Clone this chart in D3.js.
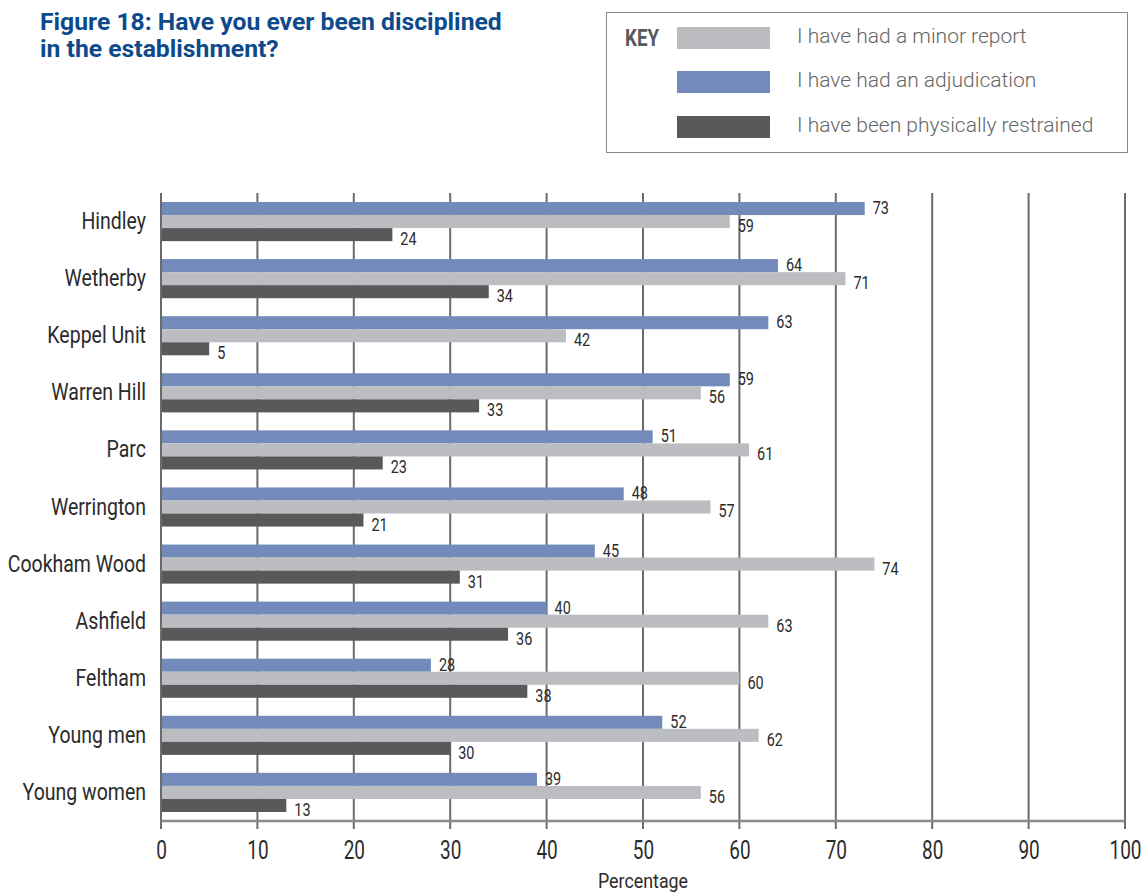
<!DOCTYPE html>
<html><head><meta charset="utf-8">
<script src="https://cdn.jsdelivr.net/npm/d3@7"></script>
<style>
body{margin:0;background:#fff;}
text{font-family:Roboto,"Liberation Sans",sans-serif;}
</style></head>
<body><svg id="c" width="1145" height="894"></svg>
<script>
const categories=["Hindley","Wetherby","Keppel Unit","Warren Hill","Parc","Werrington","Cookham Wood","Ashfield","Feltham","Young men","Young women"];
const adjudication=[73,64,63,59,51,48,45,40,28,52,39];
const minorReport=[59,71,42,56,61,57,74,63,60,62,56];
const restrained=[24,34,5,33,23,21,31,36,38,30,13];
const xTicks=[0,10,20,30,40,50,60,70,80,90,100];
const seriesNames=["I have had a minor report","I have had an adjudication","I have been physically restrained"];

const colors={adj:"#728bbb",minor:"#bcbdc1",rest:"#58595b"};
const svg=d3.select("#c");
const L=161,R=1125,T=193,B=821;
function cond(sel,sx){
  sel.each(function(){
    const t=d3.select(this);
    const x=+t.attr("x")||0,y=+t.attr("y")||0;
    t.attr("x",0).attr("y",0).attr("transform",`translate(${x},${y}) scale(${sx},1)`);
  });
}
const x=d3.scaleLinear().domain([0,100]).range([L,R]);
const y=d3.scaleBand().domain(categories).range([T,B]).paddingInner(0.315).paddingOuter(0.158);
const sub=d3.scaleBand().domain(["adj","minor","rest"]).range([0,y.bandwidth()]);
const labelShift={adj:-1,minor:4,rest:4};

// title
svg.append("text").attr("x",40).attr("y",30).attr("fill","#0d4a8c").attr("font-weight","bold").attr("font-size",24)
  .text("Figure 18: Have you ever been disciplined").call(cond,1.03);
svg.append("text").attr("x",40).attr("y",57).attr("fill","#0d4a8c").attr("font-weight","bold").attr("font-size",24)
  .text("in the establishment?").call(cond,1.03);

// legend
svg.append("rect").attr("x",606.5).attr("y",12.5).attr("width",521).attr("height",140).attr("fill","none").attr("stroke","#8a8a8a").attr("stroke-width",1);
svg.append("text").attr("x",625).attr("y",46).attr("font-size",24).attr("font-weight","bold").attr("fill","#58595b").text("KEY").call(cond,0.78);
const legendItems=[{n:seriesNames[0],c:colors.minor,y:27},{n:seriesNames[1],c:colors.adj,y:71},{n:seriesNames[2],c:colors.rest,y:116}];
legendItems.forEach(d=>{
  svg.append("text").attr("x",797).attr("y",d.y+16).attr("font-size",21).attr("font-weight",300).attr("fill","#666").text(d.n).call(cond,1.0);
  svg.append("rect").attr("x",677).attr("y",d.y).attr("width",93).attr("height",22).attr("fill",d.c);
});

// gridlines
svg.append("g").selectAll("line").data(xTicks).join("line")
  .attr("x1",d=>x(d)).attr("x2",d=>x(d)).attr("y1",T).attr("y2",B+8)
  .attr("stroke","#6b6b6b").attr("stroke-width",2);
svg.append("line").attr("x1",L).attr("x2",R).attr("y1",B).attr("y2",B).attr("stroke","#8a8a8a").attr("stroke-width",2.5);

// x axis labels
const xa=svg.append("g").attr("transform",`translate(0,${B})`).call(d3.axisBottom(x).tickValues(xTicks).tickSize(0).tickPadding(20));
xa.select(".domain").remove();
xa.selectAll("text").attr("font-size",25).attr("fill","#2b2b2b").attr("font-family",null).attr("font-weight",400).call(cond,0.76);
svg.append("text").attr("x",643).attr("y",888).attr("text-anchor","middle").attr("font-size",21).attr("fill","#2b2b2b").attr("font-weight",400).text("Percentage").call(cond,0.85);

// y labels
const ya=svg.append("g").attr("transform",`translate(${L-15},0)`).call(d3.axisLeft(y).tickSize(0).tickPadding(0));
ya.select(".domain").remove();
ya.selectAll("text").attr("font-size",23.5).attr("fill","#2b2b2b").attr("font-family",null).attr("font-weight",400).call(cond,0.83);

// bars
const rows=categories.map((c,i)=>({c,adj:adjudication[i],minor:minorReport[i],rest:restrained[i]}));
const g=svg.append("g");
["adj","minor","rest"].forEach(k=>{
  g.selectAll("rect."+k).data(rows).join("rect").attr("class",k)
    .attr("x",x(0)+1).attr("y",d=>y(d.c)+sub(k)).attr("width",d=>x(d[k])-x(0)-1).attr("height",sub.bandwidth())
    .attr("fill",colors[k]);
  g.selectAll("text."+k).data(rows).join("text").attr("class",k)
    .attr("x",d=>x(d[k])+8).attr("y",d=>y(d.c)+sub(k)+sub.bandwidth()/2+labelShift[k]).attr("dy","0.35em")
    .attr("font-size",18.5).attr("font-weight",400).attr("fill","#2b2b2b").text(d=>d[k]).call(cond,0.78);
});
</script></body></html>
